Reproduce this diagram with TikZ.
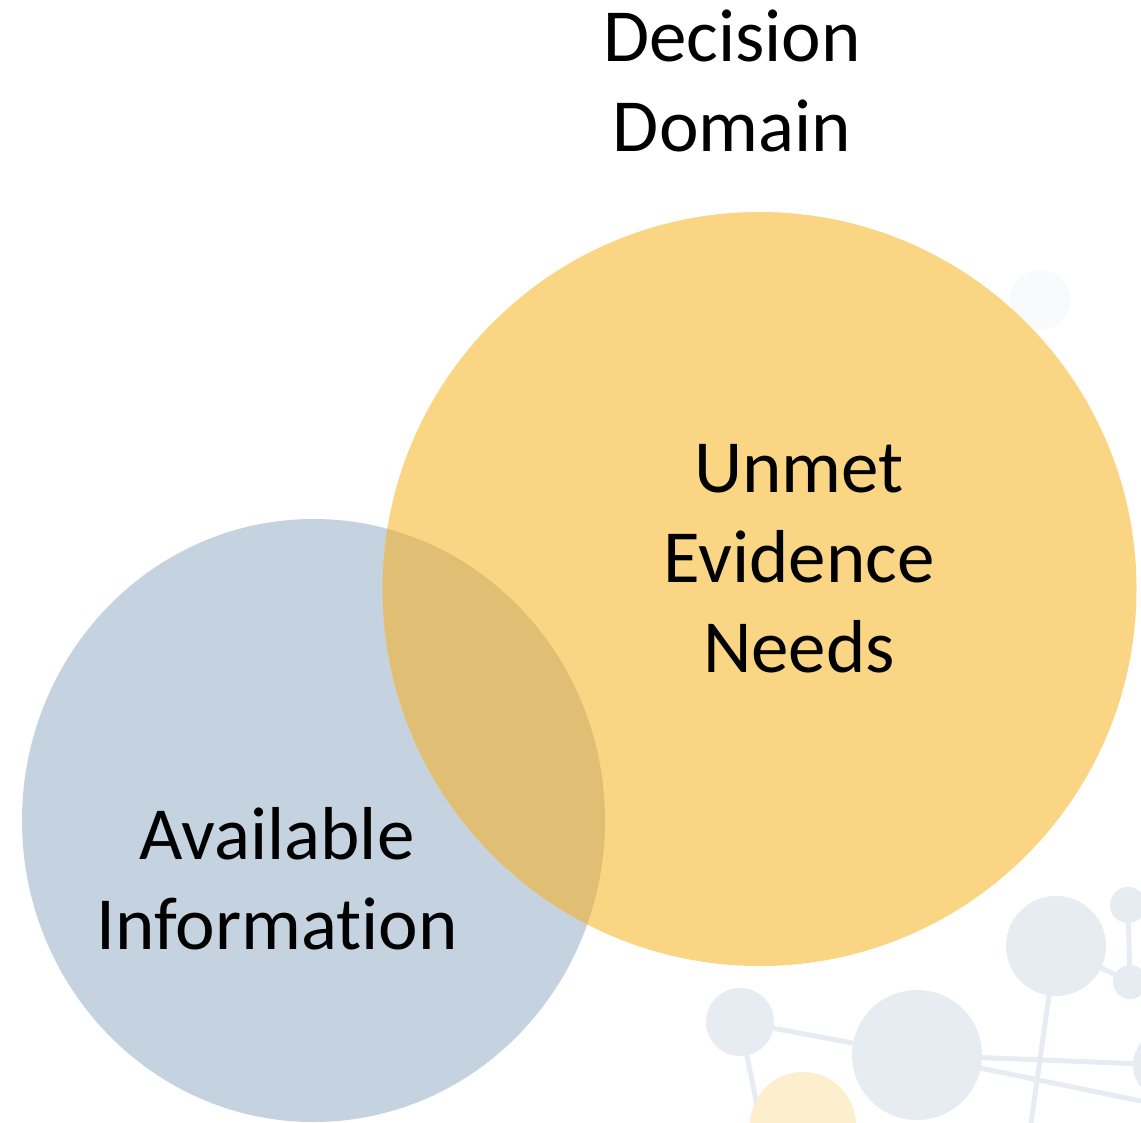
\documentclass[tikz,border=0pt]{standalone}
\usepackage{fontspec}
\setmainfont{Carlito}[Ligatures=NoCommon]
\definecolor{bluefill}{RGB}{196,211,223}
\definecolor{yelfill}{RGB}{250,213,131}
\definecolor{overfill}{RGB}{224,191,117}
\definecolor{decofill}{RGB}{230,236,242}
\definecolor{decofaint}{RGB}{248,250,252}
\definecolor{decoorange}{RGB}{253,238,205}
\begin{document}
\begin{tikzpicture}[x=1pt,y=-1pt,
  label/.style={align=center,font=\fontsize{75}{90}\selectfont,inner sep=0pt},
  deco/.style={fill=decofill,draw=none},
  decoline/.style={draw=decofill,line width=5pt}]
\useasboundingbox (0,0) rectangle (1141,1123);
% faint background decoration
\coordinate (d1) at (1056,946);
\coordinate (d2) at (917,1055);
\coordinate (d3) at (1128,905);
\coordinate (d4) at (1130,982);
\coordinate (d5) at (740,1022);
\coordinate (d6) at (1168,1065);
\coordinate (d7) at (1030,1130);
\coordinate (d8) at (762,1130);
\coordinate (d9) at (1160,1105);
\draw[decoline] (d2) -- (d6);
\draw[decoline] (d2) -- (d9);
\draw[decoline] (d3) -- (d4);
\draw[decoline] (d1) -- (d4);
\draw[decoline] (d1) -- (d7);
\draw[decoline] (d5) -- (d2);
\draw[decoline] (d5) -- (d8);
\fill[decofaint] (1040,300) circle (30);
\fill[deco] (d1) circle (50);
\fill[deco] (d2) circle (65);
\fill[deco] (d3) circle (18);
\fill[deco] (d4) circle (17);
\fill[deco] (d5) circle (34);
\fill[deco] (d6) circle (35);
\fill[decoorange] (803,1125) circle (53);
% circles
\coordinate (bc) at (313.5,820.5);
\coordinate (yc) at (759.5,589);
\fill[bluefill] (bc) ellipse [x radius=291.5, y radius=301.5];
\fill[yelfill] (yc) circle (377);
\begin{scope}
  \clip (bc) ellipse [x radius=291.5, y radius=301.5];
  \fill[overfill] (yc) circle (377);
\end{scope}
% texts
\node[label] (dd) at (732,81) {Decision\\Domain};
\node[label] (ue) at (799,559) {Unmet\\Evidence\\Needs};
\node[label] (ai) at (277,879) {Available\\Information};
\end{tikzpicture}
\end{document}
